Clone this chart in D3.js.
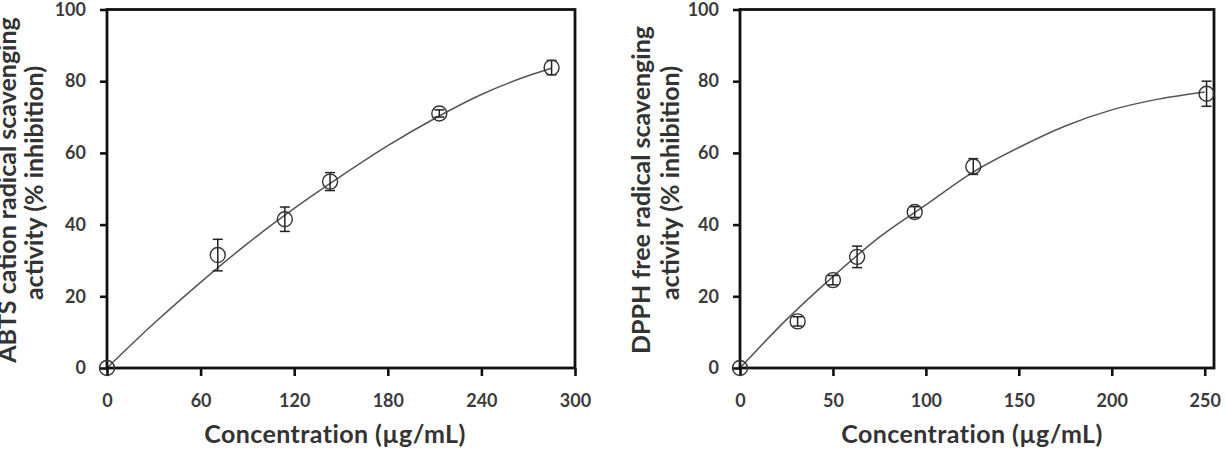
<!DOCTYPE html>
<html>
<head>
<meta charset="utf-8">
<script src="https://cdn.jsdelivr.net/npm/d3@7"></script>
<style>
  body { margin: 0; background: #fff; }
  svg { display: block; }
  .axis text { font-family: Lato, "Open Sans", sans-serif; font-weight: 700; font-size: 18px; fill: #3b3b3b; }
  .axis line { stroke: #111; stroke-width: 2.6; }
  .axis path { display: none; }
  .title { font-family: Lato, "Open Sans", sans-serif; font-weight: 700; fill: #333; }
</style>
</head>
<body>
<script>
// ABTS panel (left)
var abtsConc = [0, 71, 114, 143, 213, 285],
    abtsMean = [0, 31.5, 41.5, 52, 71, 83.8],
    abtsErr  = [0, 4.4, 3.4, 2.5, 1.0, 2.0],
    abtsFitX = [0, 30, 60, 90, 120, 150, 180, 210, 240, 270, 285],
    abtsFitY = [0, 12.4, 23.9, 34.7, 44.5, 53.5, 62, 69.6, 76.3, 81.5, 83.6],
    abtsXTicks = [0, 60, 120, 180, 240, 300];

// DPPH panel (right)
var dpphConc = [0, 31, 50, 63, 94, 125.5, 251],
    dpphMean = [0, 13, 24.5, 31, 43.5, 56.2, 76.5],
    dpphErr  = [0, 1.3, 1.3, 3.0, 1.5, 2.2, 3.5],
    dpphFitX = [0, 25, 50, 75, 100, 125, 150, 175, 200, 225, 250],
    dpphFitY = [0, 13.5, 25.5, 36.5, 45.5, 54.5, 61.5, 67.5, 72, 75, 77],
    dpphXTicks = [0, 50, 100, 150, 200, 250];

var yTicks = [0, 20, 40, 60, 80, 100];
var xTitle = "Concentration (\u00b5g/mL)";

var width = 1226, height = 449;
var svg = d3.select("body").append("svg")
    .attr("width", width)
    .attr("height", height);

var panels = [
  {conc: abtsConc, mean: abtsMean, err: abtsErr, fx: abtsFitX, fy: abtsFitY,
   xTicks: abtsXTicks, xMax: 300, left: 107, right: 575, titleShift: -6,
   yTitle: ["ABTS cation radical scavenging", "activity (% inhibition)"], titleX: [8, 35]},
  {conc: dpphConc, mean: dpphMean, err: dpphErr, fx: dpphFitX, fy: dpphFitY,
   xTicks: dpphXTicks, xMax: 255, left: 740, right: 1214, titleShift: -5,
   yTitle: ["DPPH free radical scavenging", "activity (% inhibition)"], titleX: [642, 671]}
];

var plotTop = 9.5, plotBottom = 368;
var titleMidY = [190, 183];

panels.forEach(function(p) {
  var x = d3.scaleLinear().domain([0, p.xMax]).range([p.left, p.right]),
      y = d3.scaleLinear().domain([0, 100]).range([plotBottom, plotTop]);

  var g = svg.append("g");

  // fitted curve
  var fit = p.fx.map(function(v, i) { return {x: v, y: p.fy[i]}; });
  var line = d3.line()
      .curve(d3.curveMonotoneX)
      .x(function(d) { return x(d.x); })
      .y(function(d) { return y(d.y); });
  g.append("path")
      .datum(fit)
      .attr("d", line)
      .attr("fill", "none")
      .attr("stroke", "#555")
      .attr("stroke-width", 1.5);

  // axes
  g.append("g")
      .attr("class", "axis")
      .attr("transform", "translate(0," + plotBottom + ")")
      .call(d3.axisBottom(x).tickValues(p.xTicks).tickSize(8).tickSizeOuter(0).tickPadding(18));
  g.append("g")
      .attr("class", "axis")
      .attr("transform", "translate(" + p.left + ",0)")
      .call(d3.axisLeft(y).tickValues(yTicks).tickSize(7).tickSizeOuter(0).tickPadding(14));

  // frame
  g.append("rect")
      .attr("x", p.left)
      .attr("y", plotTop)
      .attr("width", p.right - p.left)
      .attr("height", plotBottom - plotTop)
      .attr("fill", "none")
      .attr("stroke", "#111")
      .attr("stroke-width", 2.8);

  // points with error bars
  var pts = p.conc.map(function(v, i) { return {x: v, y: p.mean[i], e: p.err[i]}; });
  var pt = g.selectAll(".pt").data(pts).enter().append("g").attr("class", "pt");
  pt.append("line")
      .attr("x1", function(d) { return x(d.x); })
      .attr("x2", function(d) { return x(d.x); })
      .attr("y1", function(d) { return y(d.y + d.e); })
      .attr("y2", function(d) { return y(d.y - d.e); })
      .attr("stroke", "#222").attr("stroke-width", 1.5);
  [1, -1].forEach(function(s) {
    pt.filter(function(d) { return d.e > 0; }).append("line")
        .attr("x1", function(d) { return x(d.x) - 5; })
        .attr("x2", function(d) { return x(d.x) + 5; })
        .attr("y1", function(d) { return y(d.y + s * d.e); })
        .attr("y2", function(d) { return y(d.y + s * d.e); })
        .attr("stroke", "#222").attr("stroke-width", 1.5);
  });
  pt.append("circle")
      .attr("cx", function(d) { return x(d.x); })
      .attr("cy", function(d) { return y(d.y); })
      .attr("r", 7.5)
      .attr("fill", "none")
      .attr("stroke", "#333")
      .attr("stroke-width", 1.4);

  // x title
  svg.append("text")
      .attr("class", "title")
      .attr("x", (p.left + p.right) / 2 + p.titleShift)
      .attr("y", 443)
      .attr("text-anchor", "middle")
      .style("font-size", "25px")
      .style("letter-spacing", "0.4px")
      .text(xTitle);

  // y title, two lines
  p.yTitle.forEach(function(t, i) {
    svg.append("text")
        .attr("class", "title")
        .attr("transform", "translate(" + (p.titleX[i] + 8) + "," + titleMidY[i] + ") rotate(-90)")
        .attr("text-anchor", "middle")
        .style("font-size", "25px")
        .text(t);
  });
});
</script>
</body>
</html>
